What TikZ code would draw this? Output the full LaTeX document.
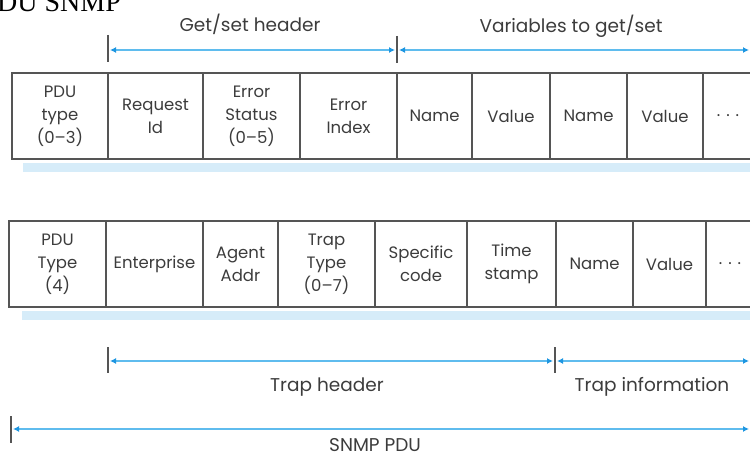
\documentclass[tikz,border=0pt]{standalone}
\usepackage{fontspec}
\newfontfamily\lab[Ligatures=TeX]{Poppins}
\newfontfamily\ttl{Liberation Serif}
\usetikzlibrary{arrows.meta}
\definecolor{arrowblue}{RGB}{95,188,238}
\definecolor{tipblue}{RGB}{30,150,225}
\definecolor{shadowblue}{RGB}{214,236,249}
\definecolor{cellgray}{RGB}{85,85,85}
\definecolor{txtgray}{RGB}{60,60,60}
\tikzset{
  cell/.style={draw=cellgray, line width=1.3pt, inner sep=0pt, minimum height=86pt,
    align=center, text=txtgray, font=\lab\fontsize{16.5}{23}\selectfont},
  span/.style={draw=arrowblue, line width=2pt, {Latex[length=6pt,width=6pt,color=tipblue]}-{Latex[length=6pt,width=6pt,color=tipblue]}, shorten <=2pt, shorten >=2pt},
  tick/.style={draw=cellgray, line width=1.3pt},
  lbl/.style={text=txtgray, font=\lab\fontsize{18.5}{22}\selectfont, inner sep=0pt, anchor=base},
  shadowbar/.style={fill=shadowblue, draw=none}
}
\begin{document}
\begin{tikzpicture}[x=1pt,y=-1pt]
\useasboundingbox (0,0) rectangle (750,457);
% cropped caption
\node[anchor=base west, inner sep=0pt, font=\ttl\fontsize{28}{30}\selectfont] (cap) at (-3,12) {DU SNMP};

% top labels and spans
\node[lbl] (lgs) at (250,32) {Get/set header};
\node[lbl] (lvar) at (571,33) {Variables to get/set};
\coordinate (t1a) at (108,35); \coordinate (t1b) at (108,62);
\coordinate (t2a) at (397,36); \coordinate (t2b) at (397,63);
\draw[tick] (t1a) -- (t1b);
\draw[tick] (t2a) -- (t2b);
\coordinate (g1) at (108,50); \coordinate (g2) at (397,50); \coordinate (g3) at (751,50);
\draw[span] (g1) -- (g2);
\draw[span] (g2) -- (g3);

% top table
\fill[shadowbar] (23,163) rectangle (752,172);
\node[cell, minimum width=96pt] (a1) at (60,116) {PDU\\type\\(0--3)};
\node[cell, minimum width=95pt] (a2) at (155.5,116) {Request\\Id};
\node[cell, minimum width=97pt] (a3) at (251.5,116) {Error\\Status\\(0--5)};
\node[cell, minimum width=97pt] (a4) at (348.5,116) {Error\\Index};
\node[cell, minimum width=75pt] (a5) at (434.5,116) {Name};
\node[cell, minimum width=78pt] (a6) at (511,116) {Value};
\node[cell, minimum width=77pt] (a7) at (588.5,116) {Name};
\node[cell, minimum width=76pt] (a8) at (665,116) {Value};
\node[cell, minimum width=50pt] (a9) at (728,116) {.\hspace{6pt}.\hspace{6pt}.};

% bottom table
\fill[shadowbar] (22,311) rectangle (752,320);
\node[cell, minimum width=97pt] (b1) at (57.5,264) {PDU\\Type\\(4)};
\node[cell, minimum width=97pt] (b2) at (154.5,264) {Enterprise};
\node[cell, minimum width=75pt] (b3) at (240.5,264) {Agent\\Addr};
\node[cell, minimum width=97pt] (b4) at (326.5,264) {Trap\\Type\\(0--7)};
\node[cell, minimum width=92pt] (b5) at (421,264) {Specific\\code};
\node[cell, minimum width=89pt] (b6) at (511.5,264) {Time\\stamp};
\node[cell, minimum width=77pt] (b7) at (594.5,264) {Name};
\node[cell, minimum width=73pt] (b8) at (669.5,264) {Value};
\node[cell, minimum width=48pt] (b9) at (730,264) {.\hspace{6pt}.\hspace{6pt}.};

% bottom spans
\coordinate (t3a) at (108,347); \coordinate (t3b) at (108,373);
\coordinate (t4a) at (555,347); \coordinate (t4b) at (555,373);
\coordinate (t5a) at (11,416); \coordinate (t5b) at (11,443);
\draw[tick] (t3a) -- (t3b);
\draw[tick] (t4a) -- (t4b);
\draw[tick] (t5a) -- (t5b);
\coordinate (h1) at (108,361); \coordinate (h2) at (555,361); \coordinate (h3) at (751,361);
\coordinate (s1) at (11,429); \coordinate (s2) at (751,429);
\draw[span] (h1) -- (h2);
\draw[span] (h2) -- (h3);
\draw[span] (s1) -- (s2);
\node[lbl] (lth) at (327,391) {Trap header};
\node[lbl] (lti) at (652,391) {Trap information};
\node[lbl] (lsn) at (375,451) {SNMP PDU};
\end{tikzpicture}
\end{document}
